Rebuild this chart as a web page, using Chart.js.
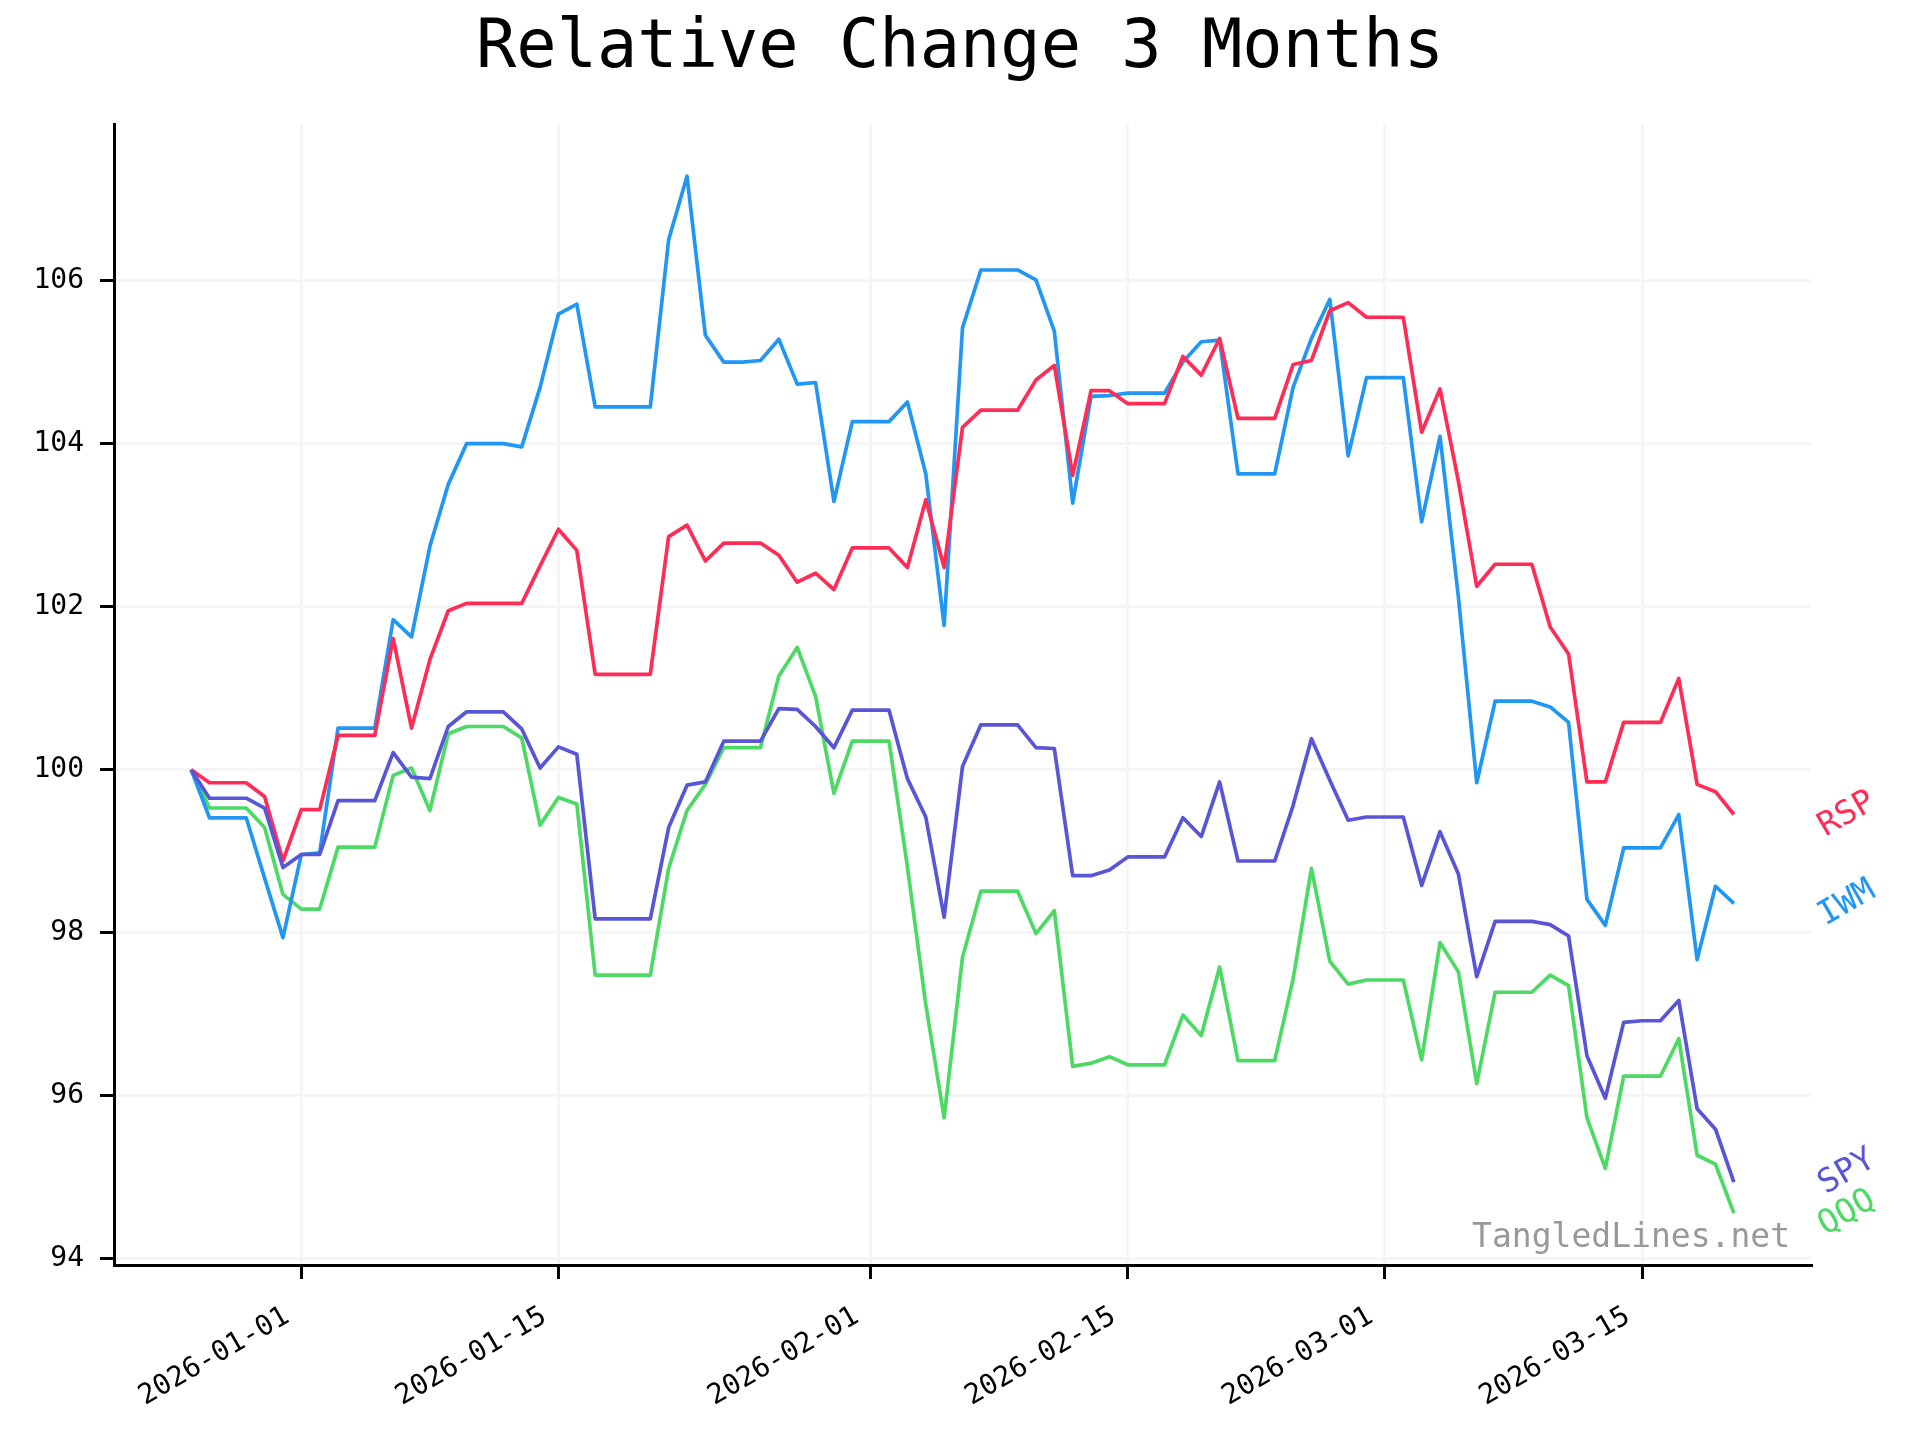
<!DOCTYPE html>
<html>
<head>
<meta charset="utf-8">
<script src="https://cdn.jsdelivr.net/npm/chart.js@4.4.1/dist/chart.umd.min.js"></script>
<style>
  html, body { margin: 0; padding: 0; background: #fff; }
  canvas { display: block; }
</style>
</head>
<body>
<canvas id="chart" width="1920" height="1440"></canvas>
<script>
// one point per calendar day
const dates = [
  "2025-12-26", "2025-12-27", "2025-12-28", "2025-12-29", "2025-12-30", "2025-12-31",
  "2026-01-01", "2026-01-02", "2026-01-03", "2026-01-04", "2026-01-05", "2026-01-06", "2026-01-07",
  "2026-01-08", "2026-01-09", "2026-01-10", "2026-01-11", "2026-01-12", "2026-01-13", "2026-01-14",
  "2026-01-15", "2026-01-16", "2026-01-17", "2026-01-18", "2026-01-19", "2026-01-20", "2026-01-21",
  "2026-01-22", "2026-01-23", "2026-01-24", "2026-01-25", "2026-01-26", "2026-01-27", "2026-01-28",
  "2026-01-29", "2026-01-30", "2026-01-31",
  "2026-02-01", "2026-02-02", "2026-02-03", "2026-02-04", "2026-02-05", "2026-02-06", "2026-02-07",
  "2026-02-08", "2026-02-09", "2026-02-10", "2026-02-11", "2026-02-12", "2026-02-13", "2026-02-14",
  "2026-02-15", "2026-02-16", "2026-02-17", "2026-02-18", "2026-02-19", "2026-02-20", "2026-02-21",
  "2026-02-22", "2026-02-23", "2026-02-24", "2026-02-25", "2026-02-26", "2026-02-27", "2026-02-28",
  "2026-03-01", "2026-03-02", "2026-03-03", "2026-03-04", "2026-03-05", "2026-03-06", "2026-03-07",
  "2026-03-08", "2026-03-09", "2026-03-10", "2026-03-11", "2026-03-12", "2026-03-13", "2026-03-14",
  "2026-03-15", "2026-03-16", "2026-03-17", "2026-03-18", "2026-03-19", "2026-03-20"
];

const spy = [
  100, 99.65, 99.65, 99.65, 99.53, 98.80,
  98.96, 98.96, 99.62, 99.62, 99.62, 100.21, 99.91, 99.89, 100.53, 100.71,
  100.71, 100.71, 100.50, 100.02, 100.28, 100.19, 98.17, 98.17, 98.17, 98.17,
  99.29, 99.81, 99.85, 100.35, 100.35, 100.35, 100.75, 100.74, 100.53, 100.27,
  100.73, 100.73, 100.73, 99.89, 99.42, 98.19, 100.04, 100.55, 100.55, 100.55,
  100.27, 100.26, 98.70, 98.70, 98.77, 98.93, 98.93, 98.93, 99.41, 99.18,
  99.85, 98.88, 98.88, 98.88, 99.56, 100.38, 99.87, 99.38, 99.42, 99.42,
  99.42, 98.58, 99.24, 98.72, 97.46, 98.14, 98.14, 98.14, 98.10, 97.96,
  96.49, 95.97, 96.90, 96.92, 96.92, 97.17, 95.84, 95.59, 94.94
];
const rsp = [
  100, 99.84, 99.84, 99.84, 99.67, 98.88,
  99.51, 99.51, 100.42, 100.42, 100.42, 101.61, 100.51, 101.35, 101.95, 102.04,
  102.04, 102.04, 102.04, 102.50, 102.95, 102.69, 101.17, 101.17, 101.17, 101.17,
  102.86, 103.00, 102.56, 102.78, 102.78, 102.78, 102.63, 102.30, 102.41, 102.21,
  102.72, 102.72, 102.72, 102.48, 103.31, 102.48, 104.20, 104.41, 104.41, 104.41,
  104.78, 104.96, 103.61, 104.65, 104.65, 104.49, 104.49, 104.49, 105.07, 104.84,
  105.29, 104.31, 104.31, 104.31, 104.97, 105.02, 105.63, 105.73, 105.55, 105.55,
  105.55, 104.14, 104.67, 103.54, 102.25, 102.52, 102.52, 102.52, 101.75, 101.42,
  99.85, 99.85, 100.58, 100.58, 100.58, 101.12, 99.82, 99.73, 99.45
];
const iwm = [
  100, 99.41, 99.41, 99.41, 98.67, 97.94,
  98.96, 98.98, 100.51, 100.51, 100.51, 101.84, 101.63, 102.74, 103.50, 104.00,
  104.00, 104.00, 103.96, 104.69, 105.59, 105.71, 104.45, 104.45, 104.45, 104.45,
  106.50, 107.28, 105.33, 105.00, 105.00, 105.02, 105.28, 104.73, 104.75, 103.29,
  104.27, 104.27, 104.27, 104.51, 103.63, 101.77, 105.42, 106.13, 106.13, 106.13,
  106.01, 105.38, 103.27, 104.58, 104.59, 104.62, 104.62, 104.62, 105.00, 105.25,
  105.27, 103.63, 103.63, 103.63, 104.69, 105.29, 105.77, 103.85, 104.81, 104.81,
  104.81, 103.04, 104.09, 102.12, 99.84, 100.84, 100.84, 100.84, 100.77, 100.58,
  98.41, 98.09, 99.04, 99.04, 99.04, 99.45, 97.67, 98.57, 98.36
];
const qqq = [
  100, 99.53, 99.53, 99.53, 99.29, 98.47,
  98.29, 98.29, 99.05, 99.05, 99.05, 99.93, 100.02, 99.50, 100.44, 100.53,
  100.53, 100.53, 100.39, 99.32, 99.66, 99.58, 97.48, 97.48, 97.48, 97.48,
  98.79, 99.50, 99.82, 100.27, 100.27, 100.27, 101.15, 101.50, 100.90, 99.71,
  100.35, 100.35, 100.35, 98.81, 97.12, 95.73, 97.70, 98.51, 98.51, 98.51,
  97.99, 98.27, 96.36, 96.40, 96.48, 96.38, 96.38, 96.38, 96.99, 96.74,
  97.58, 96.43, 96.43, 96.43, 97.43, 98.79, 97.65, 97.37, 97.42, 97.42,
  97.42, 96.44, 97.88, 97.52, 96.15, 97.27, 97.27, 97.27, 97.48, 97.35,
  95.73, 95.11, 96.24, 96.24, 96.24, 96.70, 95.27, 95.16, 94.56
];

const xTickLabels = ["2026-01-01", "2026-01-15", "2026-02-01", "2026-02-15", "2026-03-01", "2026-03-15"];
const yTickValues = [94, 96, 98, 100, 102, 104, 106];

const MONO = '"DejaVu Sans Mono", monospace';
const DAY = 86400000;
const origin = Date.parse("2026-01-01");
const toDay = (s) => Math.round((Date.parse(s) - origin) / DAY);

const days = dates.map(toDay);
const xTickDays = xTickLabels.map(toDay);

const series = [
  { label: "SPY", values: spy, color: "#5856d6" },
  { label: "RSP", values: rsp, color: "#ff2d55" },
  { label: "IWM", values: iwm, color: "#2196f3" },
  { label: "QQQ", values: qqq, color: "#4cd964" },
];

// matplotlib-like 5% margins
const allVals = [].concat(spy, rsp, iwm, qqq);
const yLo = Math.min(...allVals), yHi = Math.max(...allVals);
const yPad = (yHi - yLo) * 0.05;
const xLo = days[0], xHi = days[days.length - 1];
const xPad = (xHi - xLo) * 0.05;

// SPY and QQQ end close together, nudge SPY label up a bit
const labelNudge = { SPY: -10 };

const extras = {
  id: "extras",
  afterDraw(chart) {
    const { ctx, chartArea, scales } = chart;
    ctx.save();
    ctx.font = "33px " + MONO;
    ctx.textAlign = "center";
    ctx.textBaseline = "middle";
    chart.data.datasets.forEach((ds) => {
      const last = ds.data[ds.data.length - 1].y;
      const py = scales.y.getPixelForValue(last) + (labelNudge[ds.label] || 0);
      ctx.save();
      ctx.translate(chartArea.right + 36, py);
      ctx.rotate(-Math.PI / 6);
      ctx.fillStyle = ds.borderColor;
      ctx.fillText(ds.label, 0, 0);
      ctx.restore();
    });
    // watermark
    ctx.fillStyle = "#999999";
    ctx.textAlign = "right";
    ctx.textBaseline = "alphabetic";
    ctx.fillText("TangledLines.net", chartArea.right - 21, chartArea.bottom - 18);
    ctx.restore();
  },
};

new Chart(document.getElementById("chart"), {
  type: "line",
  data: {
    datasets: series.map((s) => ({
      label: s.label,
      data: days.map((d, i) => ({ x: d, y: s.values[i] })),
      borderColor: s.color,
      backgroundColor: s.color,
      borderWidth: 3.7,
      pointRadius: 0,
      tension: 0,
      fill: false,
      borderJoinStyle: "round",
    })),
  },
  options: {
    responsive: false,
    devicePixelRatio: 1,
    animation: false,
    layout: { padding: 0 },
    plugins: {
      legend: { display: false },
      tooltip: { enabled: false },
      title: {
        display: true,
        text: "Relative Change 3 Months",
        color: "#000",
        font: { family: MONO, size: 67, weight: "normal" },
        padding: { top: 9, bottom: 35 },
      },
    },
    scales: {
      x: {
        type: "linear",
        min: xLo - xPad,
        max: xHi + xPad,
        afterBuildTicks: (scale) => {
          scale.ticks = xTickDays.map((v) => ({ value: v }));
        },
        afterFit: (scale) => {
          scale.height = 175;
        },
        ticks: {
          autoSkip: false,
          minRotation: 30,
          maxRotation: 30,
          padding: 21,
          labelOffset: -14,
          color: "#000",
          font: { family: MONO, size: 28 },
          callback: (v) => xTickLabels[xTickDays.indexOf(v)] || "",
        },
        grid: { color: "#f5f5f5", lineWidth: 3, tickLength: 14, tickColor: "#000", tickWidth: 3 },
        border: { color: "#000", width: 3 },
      },
      y: {
        type: "linear",
        min: yLo - yPad,
        max: yHi + yPad,
        afterBuildTicks: (scale) => {
          scale.ticks = yTickValues.map((v) => ({ value: v }));
        },
        afterFit: (scale) => {
          scale.width = 114;
        },
        ticks: {
          padding: 16,
          color: "#000",
          font: { family: MONO, size: 28 },
          callback: (v) => String(v),
        },
        grid: { color: "#f5f5f5", lineWidth: 3, tickLength: 14, tickColor: "#000", tickWidth: 3 },
        border: { color: "#000", width: 3 },
      },
      // empty right-hand strip that holds the end labels
      side: {
        type: "linear",
        position: "right",
        afterFit: (scale) => {
          scale.width = 109;
        },
        ticks: { display: false },
        grid: { display: false, drawTicks: false },
        border: { display: false },
      },
    },
  },
  plugins: [extras],
});
</script>
</body>
</html>
